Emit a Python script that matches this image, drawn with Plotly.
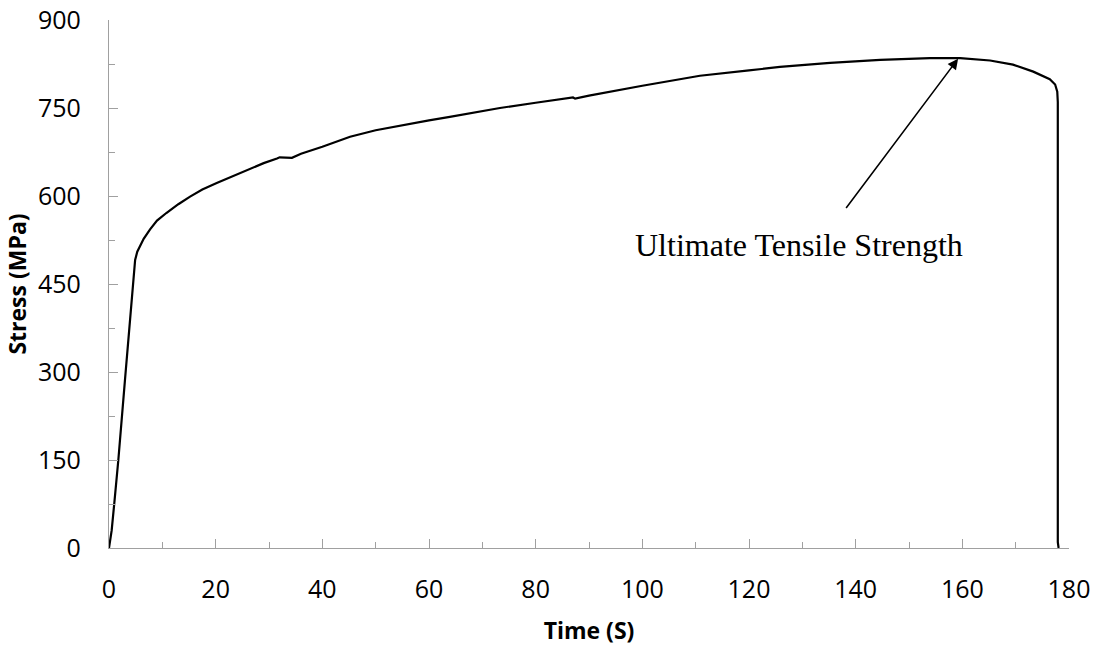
import plotly.graph_objects as go

time_s = [0, 0.5, 1.0, 1.75, 3.0, 4.25, 4.9, 5.3, 5.8, 6.5, 7.7, 9.0, 10.75, 13, 15.2, 17.5,
          20.2, 23, 26.4, 29, 31.5, 32, 34.3, 36, 40, 45.2, 50, 55, 60, 63.9, 70, 73.3, 80,
          87, 87.4, 90, 100, 110.8, 120, 125.8, 135.2, 144.6, 153.9, 159.6, 165.2, 169.5,
          173.3, 176.4, 177.4, 177.8, 177.9, 177.9, 178.05]
stress_mpa = [0, 30, 77, 150, 287, 423, 491, 505, 514, 527, 543, 558, 571, 586, 599, 611,
              622, 633, 646, 656, 664, 666, 665, 672, 684, 701, 712, 721, 729, 735, 745, 750, 759,
              768, 766, 771, 788, 805, 814, 820, 827, 832, 835, 835, 831, 824,
              812, 799, 790, 778, 760, 10, 0]

x_ticks = [0, 20, 40, 60, 80, 100, 120, 140, 160, 180]
y_ticks = [0, 150, 300, 450, 600, 750, 900]

uts_point = (159.2, 834)
arrow_tail = (138.0, 577)
label_text = "Ultimate Tensile Strength"
label_pos = (129.3, 517)

axis_grey = "#a0a0a0"
font_fam = "Open Sans"

fig = go.Figure()
fig.add_trace(go.Scatter(x=time_s, y=stress_mpa, mode="lines",
                         line=dict(color="black", width=2.2), showlegend=False))

fig.add_annotation(x=uts_point[0], y=uts_point[1], ax=arrow_tail[0], ay=arrow_tail[1],
                   xref="x", yref="y", axref="x", ayref="y", text="",
                   showarrow=True, arrowhead=2, arrowsize=1.3, arrowwidth=1.6,
                   arrowcolor="black")
fig.add_annotation(x=label_pos[0], y=label_pos[1], xref="x", yref="y",
                   text=label_text, showarrow=False,
                   font=dict(family="Liberation Serif", size=32, color="black"))

fig.update_layout(
    width=1099, height=648,
    margin=dict(l=109, r=30, t=20, b=100),
    paper_bgcolor="white", plot_bgcolor="white",
    font=dict(family=font_fam, color="black"),
)
fig.update_xaxes(
    range=[0, 180], tickvals=x_ticks, ticktext=[str(v) for v in x_ticks],
    showline=True, linecolor=axis_grey, linewidth=1.3, showgrid=False, zeroline=False,
    ticks="inside", ticklen=9, tickcolor=axis_grey, tickwidth=1.3, automargin=False,
    minor=dict(ticks="inside", ticklen=6, dtick=10, tick0=0, tickcolor=axis_grey,
               tickwidth=1.3, showgrid=False),
    tickfont=dict(size=25, family=font_fam, color="black"), ticklabelstandoff=19,
    title=dict(text="<b>Time (S)</b>", font=dict(size=23, family=font_fam), standoff=18),
)
fig.update_yaxes(
    range=[0, 900], tickvals=y_ticks, ticktext=[str(v) for v in y_ticks],
    showline=True, linecolor=axis_grey, linewidth=1.3, showgrid=False, zeroline=False,
    ticks="inside", ticklen=9, tickcolor=axis_grey, tickwidth=1.3, automargin=False,
    minor=dict(ticks="inside", ticklen=6, dtick=75, tick0=0, tickcolor=axis_grey,
               tickwidth=1.3, showgrid=False),
    tickfont=dict(size=25, family=font_fam, color="black"), ticklabelstandoff=22,
    title=dict(text="<b>Stress (MPa)</b>", font=dict(size=23, family=font_fam), standoff=4),
)

fig.write_html("out.html")
